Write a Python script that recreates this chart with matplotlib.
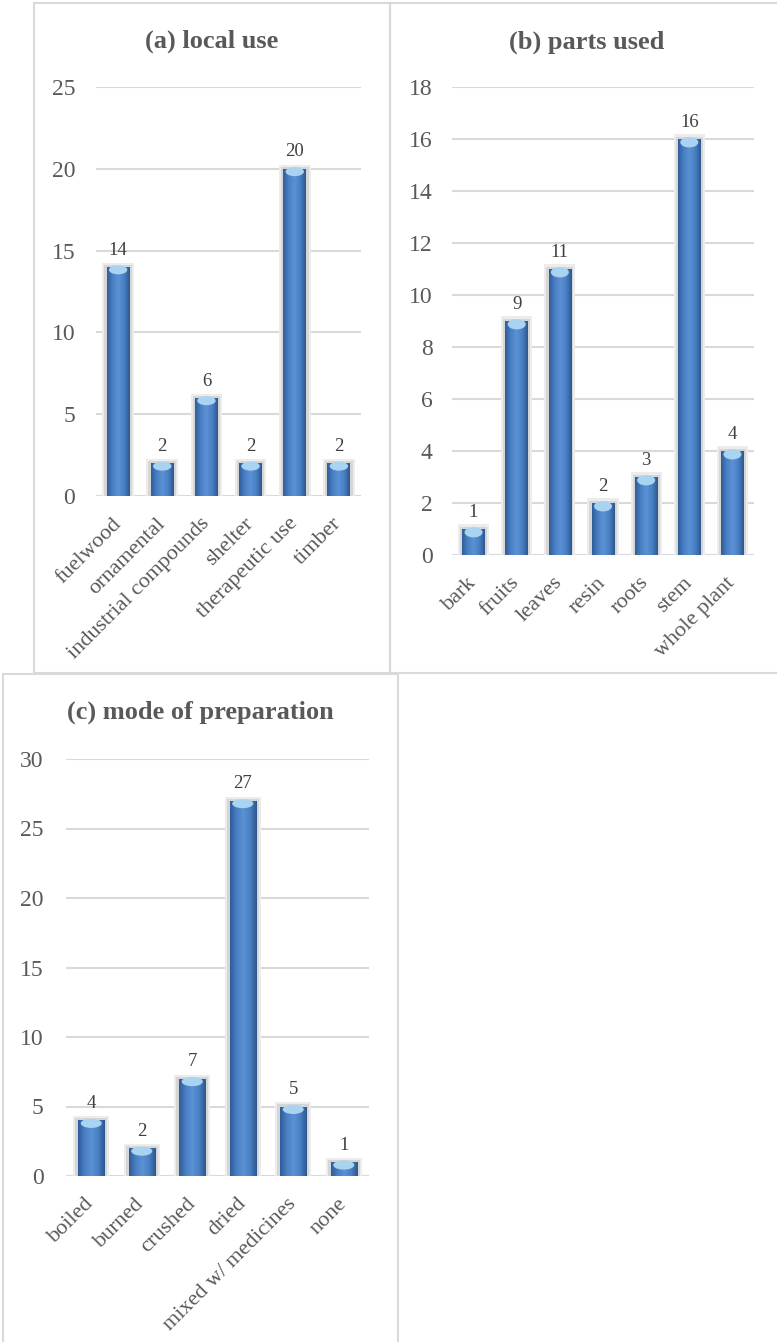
import numpy as np
import matplotlib
matplotlib.use("Agg")
import matplotlib.pyplot as plt
from matplotlib.patches import Rectangle, Ellipse
from matplotlib.colors import LinearSegmentedColormap

plt.rcParams['font.family'] = ['Liberation Serif', 'DejaVu Serif']

# data
use_labels = ['fuelwood', 'ornamental', 'industrial compounds', 'shelter', 'therapeutic use', 'timber']
use_counts = [14, 2, 6, 2, 20, 2]

part_labels = ['bark', 'fruits', 'leaves', 'resin', 'roots', 'stem', 'whole plant']
part_counts = [1, 9, 11, 2, 3, 16, 4]

prep_labels = ['boiled', 'burned', 'crushed', 'dried', 'mixed w/ medicines', 'none']
prep_counts = [4, 2, 7, 27, 5, 1]

W, H = 777, 1342
GRAY = '#595959'
GRID = '#d9d9d9'

cyl = LinearSegmentedColormap.from_list('cyl', ['#2f5d9a', '#4a80c4', '#5a92d4', '#4a80c4', '#2c5890'])


def px_box(x0, y0, x1, y1):
    # pixel box (top-left origin) -> figure fraction [left, bottom, width, height]
    return [x0 / W, 1 - y1 / H, (x1 - x0) / W, (y1 - y0) / H]


def draw_panel(fig, box, labels, counts, ymax, ystep, title, title_xy, ypad):
    ax = fig.add_axes(px_box(*box))
    n = len(labels)
    x = np.arange(n)
    w = 0.52
    # soft shadow behind bars
    ax.bar(x, [c + ymax * 0.01 for c in counts], width=w + 0.2, color='#ececec', zorder=2)
    ax.bar(x, [c + ymax * 0.005 for c in counts], width=w + 0.11, color='#d6d6d6', zorder=2)
    bars = ax.bar(x, counts, width=w, color='none', zorder=3)
    grad = np.linspace(0, 1, 64).reshape(1, -1)
    for b, c in zip(bars, counts):
        x0 = b.get_x()
        im = ax.imshow(grad, cmap=cyl, extent=(x0, x0 + w, 0, c), aspect='auto', zorder=3)
        im.set_clip_path(b)
        ax.add_patch(Ellipse((x0 + w / 2, c - ymax * 0.007), w * 0.8, ymax * 0.022,
                             color='#a8d4f2', zorder=4, lw=0))
        ax.annotate(str(c), (x0 + w / 2, c), xytext=(0, 6), textcoords='offset points',
                    ha='center', va='bottom', fontsize=13.5, color='#404040')
    ax.set_xlim(-0.5, n - 0.5)
    ax.set_ylim(0, ymax)
    ax.set_yticks(np.arange(0, ymax + 0.1, ystep))
    ax.yaxis.grid(True, color=GRID, linewidth=1.5, zorder=0)
    ax.set_axisbelow(True)
    ax.set_xticks(x)
    ax.set_xticklabels(labels, rotation=45, ha='right', va='center', rotation_mode='anchor')
    ax.tick_params(axis='y', length=0, labelsize=17, labelcolor=GRAY, pad=ypad)
    ax.tick_params(axis='x', length=0, labelsize=16, labelcolor=GRAY, pad=18)
    for s in ax.spines.values():
        s.set_visible(False)
    fig.text(title_xy[0] / W, 1 - title_xy[1] / H, title, ha='center', va='center',
             fontsize=19, fontweight='bold', color=GRAY)
    return ax


fig = plt.figure(figsize=(W / 100, H / 100), dpi=100)

# panel frames
for x0, y0, x1, y1 in [(34, 3, 390, 673), (390, 3, 800, 673), (3, 674, 398, 1360)]:
    fig.add_artist(Rectangle((x0 / W, 1 - y1 / H), (x1 - x0) / W, (y1 - y0) / H,
                             transform=fig.transFigure, fill=False, edgecolor=GRID, lw=1.5))

draw_panel(fig, (96, 87, 361, 496), use_labels, use_counts, 25, 5, '(a) local use', (212, 41), 15)
draw_panel(fig, (452, 87, 754, 555), part_labels, part_counts, 18, 2, '(b) parts used', (587, 42), 14)
draw_panel(fig, (66, 759, 369, 1176), prep_labels, prep_counts, 30, 5, '(c) mode of preparation', (200, 712), 16)

fig.savefig('out.png', dpi=100)
